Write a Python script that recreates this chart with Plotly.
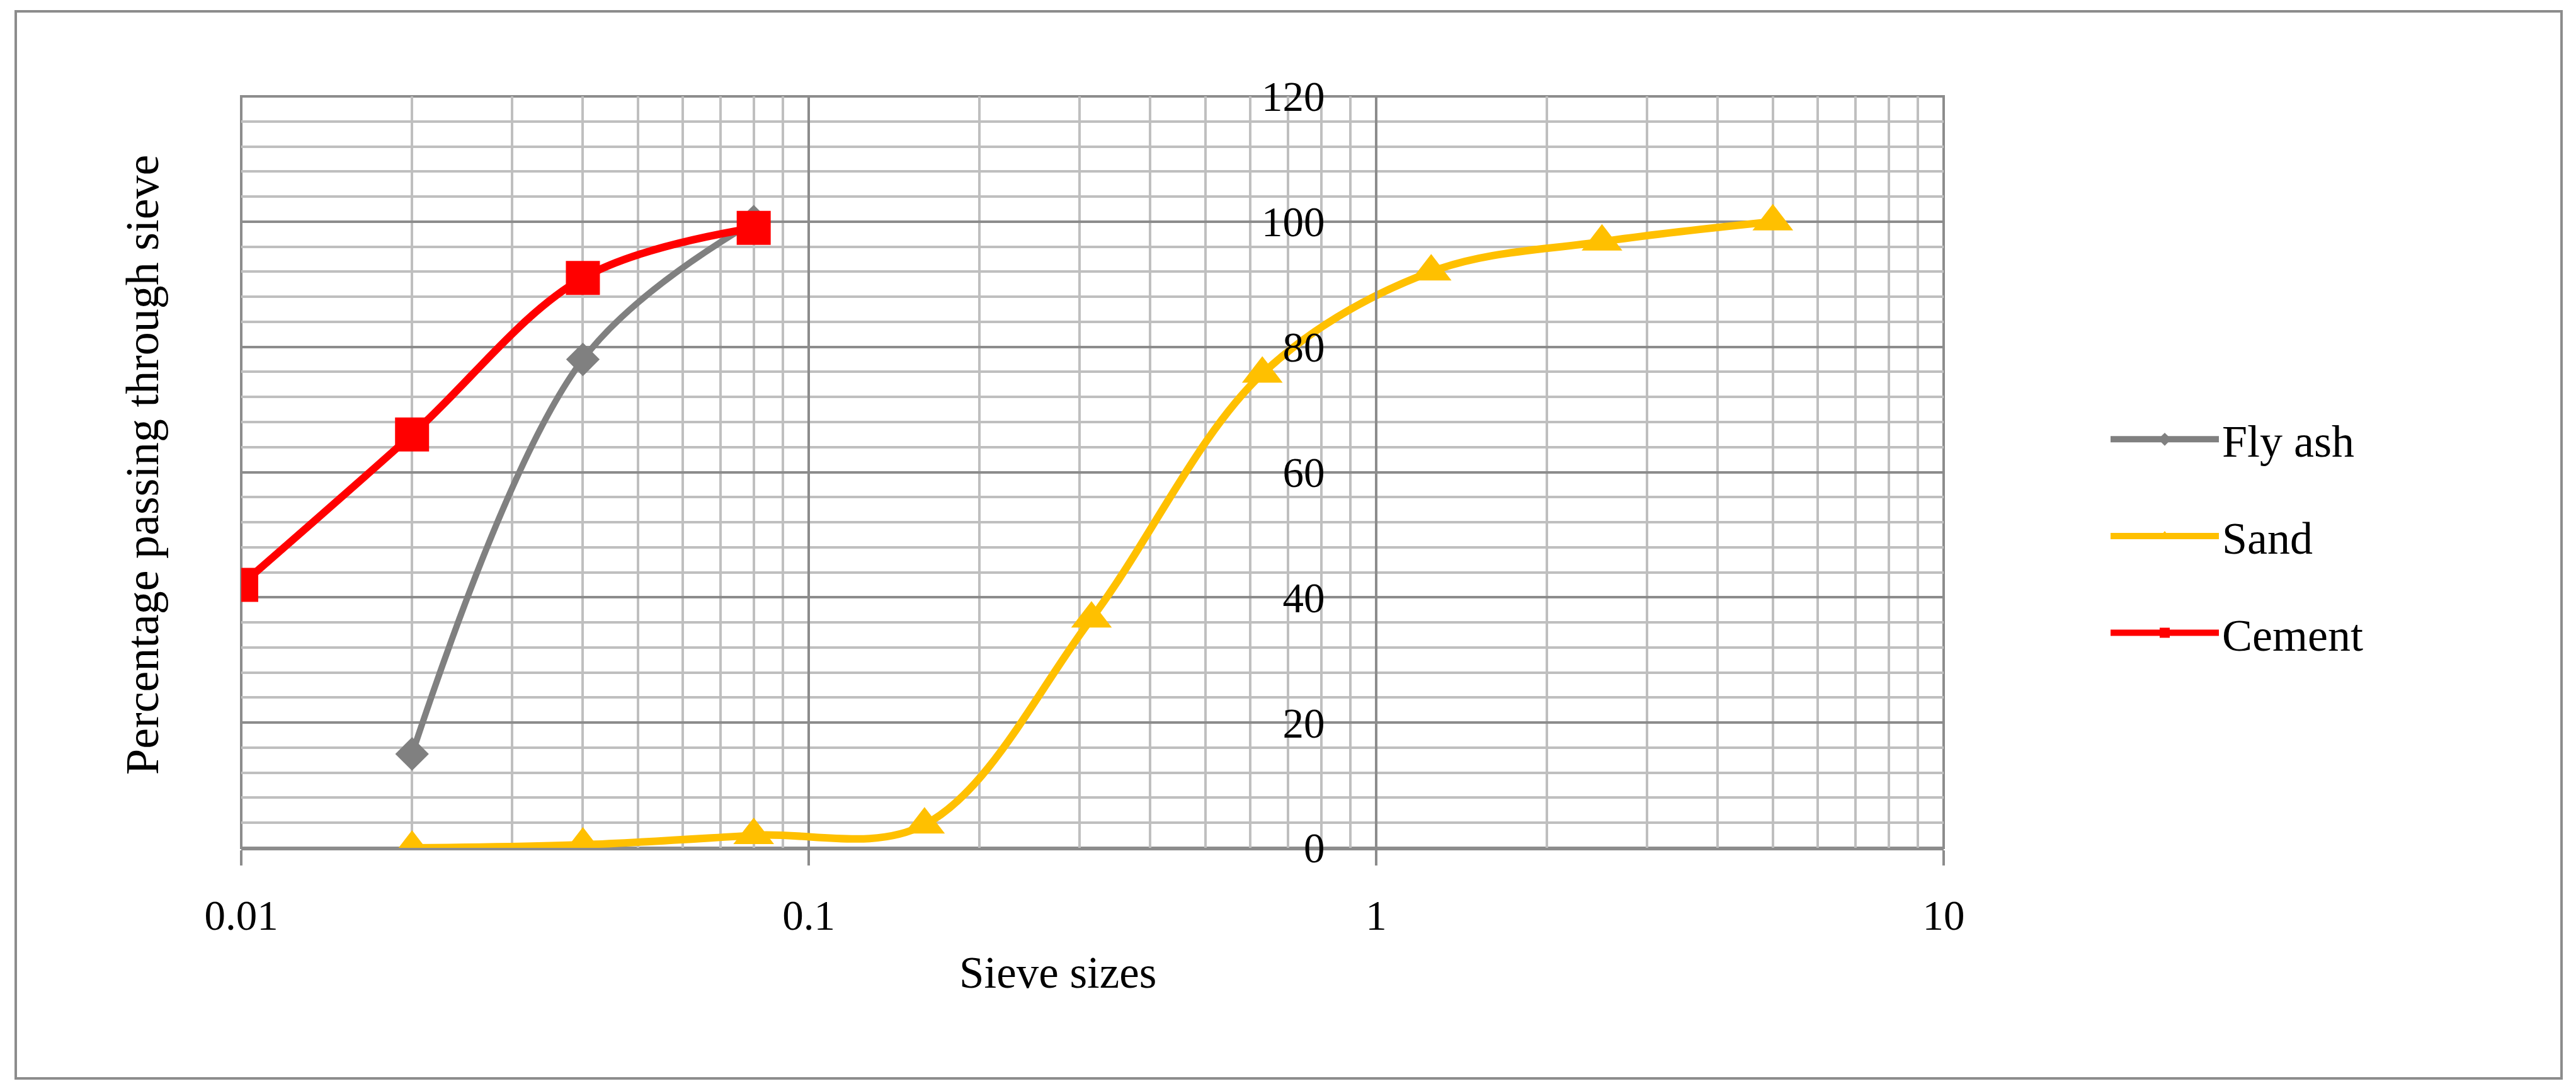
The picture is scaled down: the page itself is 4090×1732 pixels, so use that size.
import plotly.graph_objects as go

# ---- data ----
sieve_fly_ash = [0.02, 0.04, 0.08]
fly_ash = [15, 78, 100]

sieve_sand = [0.02, 0.04, 0.08, 0.16, 0.315, 0.63, 1.25, 2.5, 5]
sand = [0, 0.5, 2, 3.7, 36.6, 75.7, 92, 96.8, 100]

sieve_cement = [0.01, 0.02, 0.04, 0.08]
cement = [42, 66, 91, 99]

x_tickvals = [0.01, 0.1, 1, 10]
x_ticktext = ["0.01", "0.1", "1", "10"]

FONT = "Liberation Serif"
OFF = 8  # page body margin
W, H = 4090, 1732
# plot area in target-image pixels
PL, PR, PT, PB = 383, 3086, 153, 1346
L, R, T, B = PL - OFF, W - (PR - OFF), PT - OFF, H - (PB - OFF)
PW, PH = PR - PL, PB - PT


def px(xp):
    return (xp - PL) / PW


def py(yp):
    return (PB - yp) / PH


fig = go.Figure()
fig.add_trace(go.Scatter(
    x=sieve_fly_ash, y=fly_ash, name="Fly ash", mode="lines+markers",
    line=dict(color="#808080", width=10, shape="spline", smoothing=1),
    marker=dict(symbol="diamond", size=41, color="#808080"),
    legendgroup="a"))
fig.add_trace(go.Scatter(
    x=sieve_sand, y=sand, name="Sand", mode="lines+markers",
    line=dict(color="#FFC000", width=12, shape="spline", smoothing=1),
    marker=dict(symbol="triangle-up", size=56, color="#FFC000"),
    legendgroup="b"))
fig.add_trace(go.Scatter(
    x=sieve_cement, y=cement, name="Cement", mode="lines+markers",
    line=dict(color="#FF0000", width=12, shape="spline", smoothing=1),
    marker=dict(symbol="square", size=54, color="#FF0000"),
    legendgroup="c"))

major = "#8c8c8c"
minor = "#bfbfbf"

fig.update_layout(
    width=W, height=H,
    margin=dict(l=L, r=R, t=T, b=B),
    paper_bgcolor="white", plot_bgcolor="white",
    font=dict(family=FONT, size=67, color="black"),
    showlegend=True,
    legend=dict(x=px(3346), y=py(644), xanchor="left", yanchor="top",
                font=dict(family=FONT, size=72, color="black"),
                itemwidth=172, tracegroupgap=57, bgcolor="rgba(0,0,0,0)"),
    xaxis=dict(type="log", range=[-2, 1], tickmode="array",
               tickvals=x_tickvals, ticktext=x_ticktext,
               showgrid=True, gridcolor=major, gridwidth=4,
               minor=dict(dtick="D1", showgrid=True, gridcolor=minor, gridwidth=4, ticks=""),
               showline=True, linecolor=major, linewidth=4,
               ticks="outside", ticklen=24, tickwidth=4, tickcolor=major,
               ticklabelstandoff=22,
               tickfont=dict(family=FONT, size=67, color="black"),
               zeroline=False),
    yaxis=dict(range=[0, 120], dtick=20, anchor="free", position=2/3,
               showgrid=True, gridcolor=major, gridwidth=4,
               minor=dict(dtick=4, showgrid=True, gridcolor=minor, gridwidth=4, ticks=""),
               showline=True, linecolor=major, linewidth=4,
               ticks="", ticklabelstandoff=66,
               tickfont=dict(family=FONT, size=67, color="black"),
               zeroline=False),
)

fig.add_annotation(text="Sieve sizes", xref="paper", yref="paper",
                   x=px(1680), y=py(1544), xanchor="center", yanchor="middle",
                   showarrow=False, font=dict(family=FONT, size=71, color="black"))
fig.add_annotation(text="Percentage passing through sieve", xref="paper", yref="paper",
                   x=px(226), y=py(738), xanchor="center", yanchor="middle",
                   showarrow=False, textangle=-90,
                   font=dict(family=FONT, size=74, color="black"))

# plot-area frame (edge gridlines at 0.01, 10 and 120)
fig.add_shape(type="rect", xref="x domain", yref="y domain",
              x0=0, x1=1, y0=0, y1=1,
              line=dict(color=major, width=4), layer="below")

# outer chart border
fig.add_shape(type="rect", xref="paper", yref="paper",
              x0=px(25), x1=px(4067), y0=py(1712), y1=py(18),
              line=dict(color="#8c8c8c", width=4), layer="below")

fig.write_html("out.html")
